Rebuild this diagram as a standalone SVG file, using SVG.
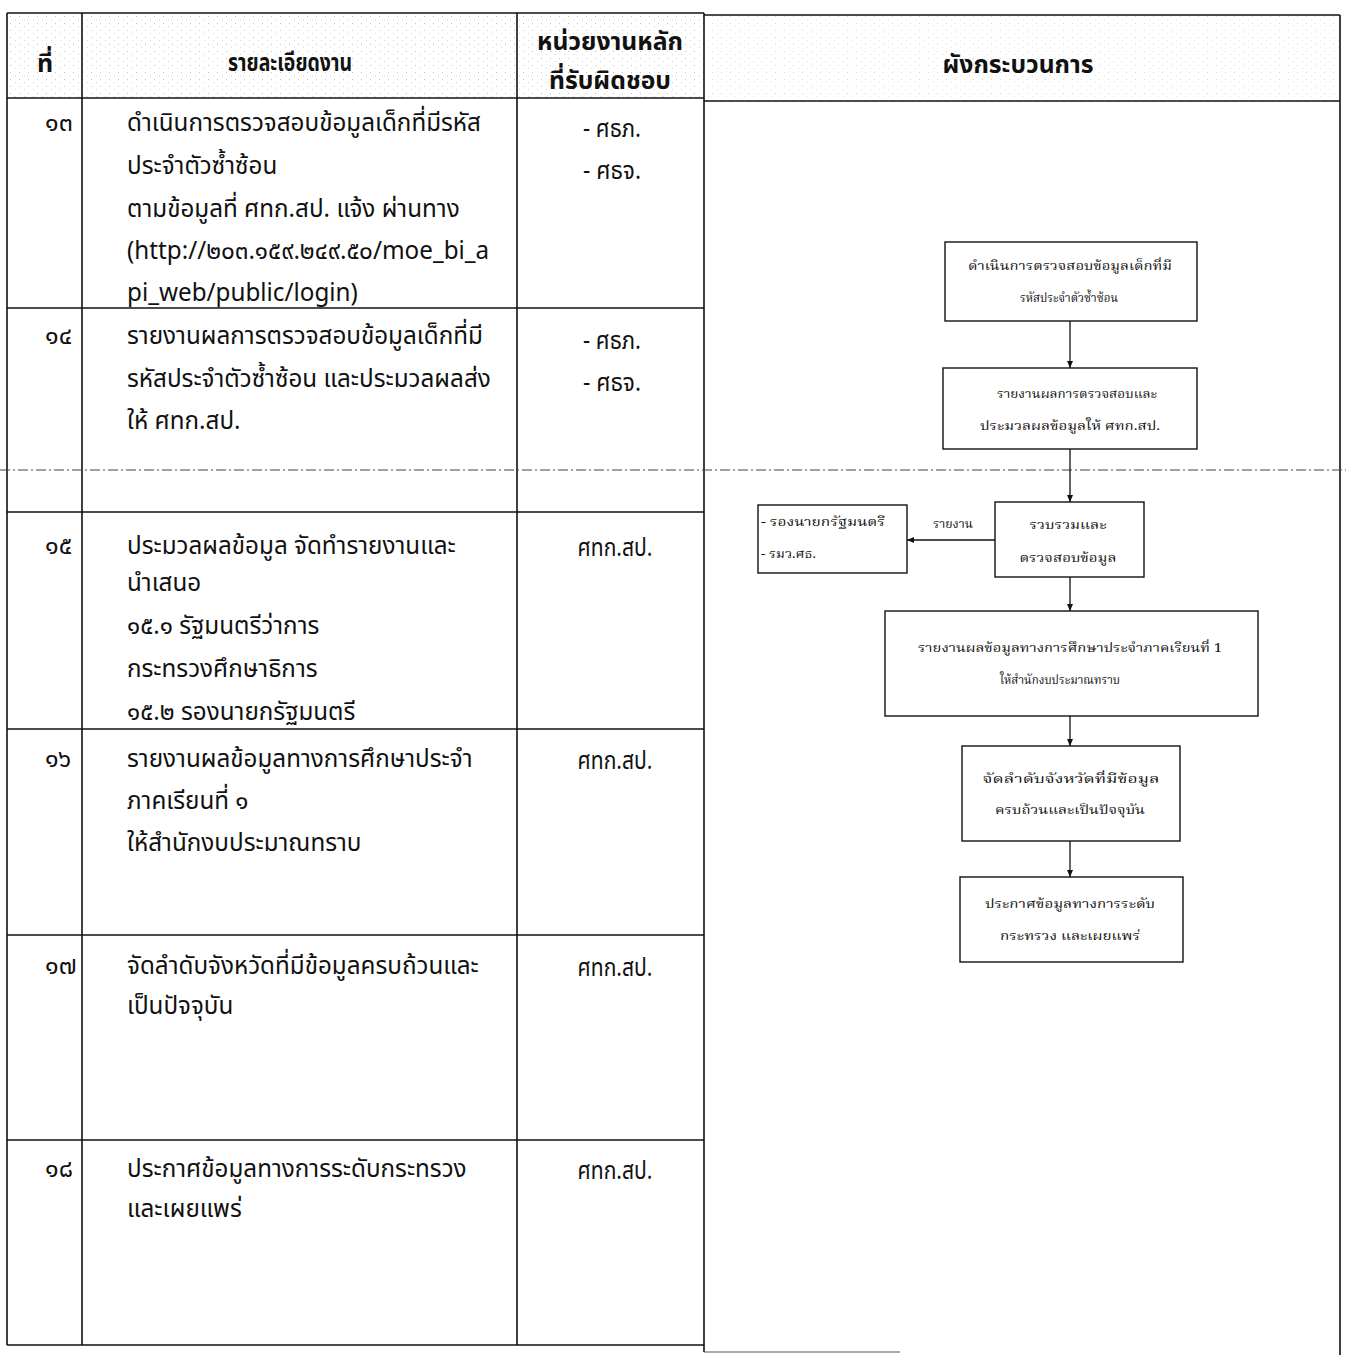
<svg xmlns="http://www.w3.org/2000/svg" width="1346" height="1355" viewBox="0 0 1346 1355">
<defs>
<marker id="ah" markerWidth="8" markerHeight="8" refX="7" refY="4" orient="auto" markerUnits="userSpaceOnUse">
<path d="M0,1 L7,4 L0,7 Z" fill="#111"/>
</marker>
<pattern id="speck" width="9" height="7" patternUnits="userSpaceOnUse">
<rect width="9" height="7" fill="#fff"/>
<rect x="1" y="2" width="1" height="1" fill="#999"/>
<rect x="6" y="5" width="1" height="1" fill="#bbb"/>
</pattern>
</defs>
<style>
.ln{stroke:#111;stroke-width:1.6;fill:none}
.bx{stroke:#111;stroke-width:1.4;fill:#fff}
.cn{stroke:#111;stroke-width:1.3;fill:none}
.t{font-family:"Noto Sans Thai","Noto Sans Thai UI","Noto Serif Thai","Loma","Garuda","Noto Sans",sans-serif;font-size:25px;fill:#111}
.h{font-family:"Noto Sans Thai","Noto Sans Thai UI","Loma","Garuda","Noto Sans",sans-serif;font-size:25px;font-weight:bold;fill:#111}
.f{font-family:"Noto Serif Thai","Noto Sans Thai","Loma","Garuda","Liberation Serif",serif;font-size:12px;fill:#111}
.c{text-anchor:middle}
</style>
<rect width="1346" height="1355" fill="#fff"/>

<g id="table">
<rect x="7" y="13" width="697" height="85" fill="url(#speck)" opacity="0.6"/>
<rect x="704" y="15" width="636" height="86" fill="url(#speck)" opacity="0.4"/>
<line class="ln" x1="7" y1="13" x2="704" y2="13"/>
<line class="ln" x1="704" y1="15" x2="1340" y2="15"/>
<line class="ln" x1="7" y1="98" x2="704" y2="98"/>
<line class="ln" x1="704" y1="101" x2="1340" y2="101"/>
<line class="ln" x1="7" y1="13" x2="7" y2="1345"/>
<line class="ln" x1="82" y1="13" x2="82" y2="1345"/>
<line class="ln" x1="517" y1="13" x2="517" y2="1345"/>
<line class="ln" x1="704" y1="13" x2="704" y2="1352"/>
<line class="ln" x1="1340" y1="15" x2="1340" y2="1355"/>
<line class="ln" x1="7" y1="308" x2="704" y2="308"/>
<line class="ln" x1="7" y1="512" x2="704" y2="512"/>
<line class="ln" x1="7" y1="729" x2="704" y2="729"/>
<line class="ln" x1="7" y1="935" x2="704" y2="935"/>
<line class="ln" x1="7" y1="1140" x2="704" y2="1140"/>
<line class="ln" x1="7" y1="1345" x2="704" y2="1345"/>
<line x1="704" y1="1352" x2="900" y2="1352" stroke="#555" stroke-width="1.2"/>
<line x1="0" y1="470" x2="1346" y2="470" stroke="#444" stroke-width="1.2" stroke-dasharray="10,3,2,3"/>
</g>

<g id="header">
<text class="h c" x="45" y="72" font-size="30">ที่</text>
<text class="h c" x="290" y="71" textLength="124" lengthAdjust="spacingAndGlyphs">รายละเอียดงาน</text>
<text class="h c" x="610" y="50" font-size="22" textLength="146" lengthAdjust="spacingAndGlyphs">หน่วยงานหลัก</text>
<text class="h c" x="610" y="89" font-size="22" textLength="122" lengthAdjust="spacingAndGlyphs">ที่รับผิดชอบ</text>
<text class="h c" x="1018" y="73" textLength="151" lengthAdjust="spacingAndGlyphs">ผังกระบวนการ</text>
</g>

<g id="numbers">
<text class="t" x="45" y="131">๑๓</text>
<text class="t" x="45" y="344">๑๔</text>
<text class="t" x="45" y="554">๑๕</text>
<text class="t" x="45" y="767">๑๖</text>
<text class="t" x="45" y="974">๑๗</text>
<text class="t" x="45" y="1177">๑๘</text>
</g>

<g id="details" transform="matrix(0.97 0 0 1 3.81 0)">
<g id="row13">
<text class="t" x="127" y="131">ดำเนินการตรวจสอบข้อมูลเด็กที่มีรหัส</text>
<text class="t" x="127" y="174">ประจำตัวซ้ำซ้อน</text>
<text class="t" x="127" y="217">ตามข้อมูลที่ ศทก.สป. แจ้ง ผ่านทาง</text>
<text class="t" x="127" y="259">(http://๒๐๓.๑๕๙.๒๔๙.๕๐/moe_bi_a</text>
<text class="t" x="127" y="301">pi_web/public/login)</text>
</g>
<g id="row14">
<text class="t" x="127" y="344">รายงานผลการตรวจสอบข้อมูลเด็กที่มี</text>
<text class="t" x="127" y="387">รหัสประจำตัวซ้ำซ้อน และประมวลผลส่ง</text>
<text class="t" x="127" y="429">ให้ ศทก.สป.</text>
</g>
<g id="row15">
<text class="t" x="127" y="554">ประมวลผลข้อมูล จัดทำรายงานและ</text>
<text class="t" x="127" y="591">นำเสนอ</text>
<text class="t" x="127" y="634">๑๕.๑ รัฐมนตรีว่าการ</text>
<text class="t" x="127" y="677">กระทรวงศึกษาธิการ</text>
<text class="t" x="127" y="720">๑๕.๒ รองนายกรัฐมนตรี</text>
</g>
<g id="row16">
<text class="t" x="127" y="767">รายงานผลข้อมูลทางการศึกษาประจำ</text>
<text class="t" x="127" y="809">ภาคเรียนที่ ๑</text>
<text class="t" x="127" y="851">ให้สำนักงบประมาณทราบ</text>
</g>
<g id="row17">
<text class="t" x="127" y="974">จัดลำดับจังหวัดที่มีข้อมูลครบถ้วนและ</text>
<text class="t" x="127" y="1014">เป็นปัจจุบัน</text>
</g>
<g id="row18">
<text class="t" x="127" y="1177">ประกาศข้อมูลทางการระดับกระทรวง</text>
<text class="t" x="127" y="1217">และเผยแพร่</text>
</g>
</g>

<g id="responsible">
<text class="t" x="583" y="137" textLength="58" lengthAdjust="spacingAndGlyphs">- ศธภ.</text>
<text class="t" x="583" y="179" textLength="58" lengthAdjust="spacingAndGlyphs">- ศธจ.</text>
<text class="t" x="583" y="349" textLength="58" lengthAdjust="spacingAndGlyphs">- ศธภ.</text>
<text class="t" x="583" y="391" textLength="58" lengthAdjust="spacingAndGlyphs">- ศธจ.</text>
<text class="t c" x="615" y="556" textLength="75" lengthAdjust="spacingAndGlyphs">ศทก.สป.</text>
<text class="t c" x="615" y="769" textLength="75" lengthAdjust="spacingAndGlyphs">ศทก.สป.</text>
<text class="t c" x="615" y="976" textLength="75" lengthAdjust="spacingAndGlyphs">ศทก.สป.</text>
<text class="t c" x="615" y="1179" textLength="75" lengthAdjust="spacingAndGlyphs">ศทก.สป.</text>
</g>

<g id="connectors">
<line class="cn" x1="1070" y1="321" x2="1070" y2="368" marker-end="url(#ah)"/>
<line class="cn" x1="1070" y1="449" x2="1070" y2="502" marker-end="url(#ah)"/>
<line class="cn" x1="995" y1="540" x2="907" y2="540" marker-end="url(#ah)"/>
<line class="cn" x1="1070" y1="577" x2="1070" y2="611" marker-end="url(#ah)"/>
<line class="cn" x1="1070" y1="716" x2="1070" y2="746" marker-end="url(#ah)"/>
<line class="cn" x1="1070" y1="841" x2="1070" y2="877" marker-end="url(#ah)"/>
<text class="f c" x="953" y="528" textLength="40" lengthAdjust="spacingAndGlyphs">รายงาน</text>
</g>

<g id="n1">
<rect class="bx" x="945" y="242" width="252" height="79"/>
<text class="f c" x="1070" y="270" textLength="204" lengthAdjust="spacingAndGlyphs">ดำเนินการตรวจสอบข้อมูลเด็กที่มี</text>
<text class="f c" x="1069" y="302" textLength="98" lengthAdjust="spacingAndGlyphs">รหัสประจำตัวซ้ำซ้อน</text>
</g>
<g id="n2">
<rect class="bx" x="943" y="368" width="254" height="81"/>
<text class="f c" x="1077" y="398" textLength="160" lengthAdjust="spacingAndGlyphs">รายงานผลการตรวจสอบและ</text>
<text class="f c" x="1070" y="430" textLength="180" lengthAdjust="spacingAndGlyphs">ประมวลผลข้อมูลให้ ศทก.สป.</text>
</g>
<g id="n3">
<rect class="bx" x="995" y="502" width="149" height="75"/>
<text class="f c" x="1068" y="529" textLength="77" lengthAdjust="spacingAndGlyphs">รวบรวมและ</text>
<text class="f c" x="1068" y="562" textLength="97" lengthAdjust="spacingAndGlyphs">ตรวจสอบข้อมูล</text>
</g>
<g id="n_left">
<rect class="bx" x="758" y="505" width="149" height="68"/>
<text class="f" x="761" y="526" textLength="124" lengthAdjust="spacingAndGlyphs">- รองนายกรัฐมนตรี</text>
<text class="f" x="761" y="558" textLength="55" lengthAdjust="spacingAndGlyphs">- รมว.ศธ.</text>
</g>
<g id="n4">
<rect class="bx" x="885" y="611" width="373" height="105"/>
<text class="f c" x="1070" y="652" textLength="304" lengthAdjust="spacingAndGlyphs">รายงานผลข้อมูลทางการศึกษาประจำภาคเรียนที่ 1</text>
<text class="f c" x="1060" y="684" textLength="120" lengthAdjust="spacingAndGlyphs">ให้สำนักงบประมาณทราบ</text>
</g>
<g id="n5">
<rect class="bx" x="962" y="746" width="218" height="95"/>
<text class="f c" x="1071" y="783" textLength="177" lengthAdjust="spacingAndGlyphs">จัดลำดับจังหวัดที่มีข้อมูล</text>
<text class="f c" x="1070" y="814" textLength="150" lengthAdjust="spacingAndGlyphs">ครบถ้วนและเป็นปัจจุบัน</text>
</g>
<g id="n6">
<rect class="bx" x="960" y="877" width="223" height="85"/>
<text class="f c" x="1070" y="908" textLength="170" lengthAdjust="spacingAndGlyphs">ประกาศข้อมูลทางการระดับ</text>
<text class="f c" x="1070" y="940" textLength="140" lengthAdjust="spacingAndGlyphs">กระทรวง และเผยแพร่</text>
</g>
</svg>
